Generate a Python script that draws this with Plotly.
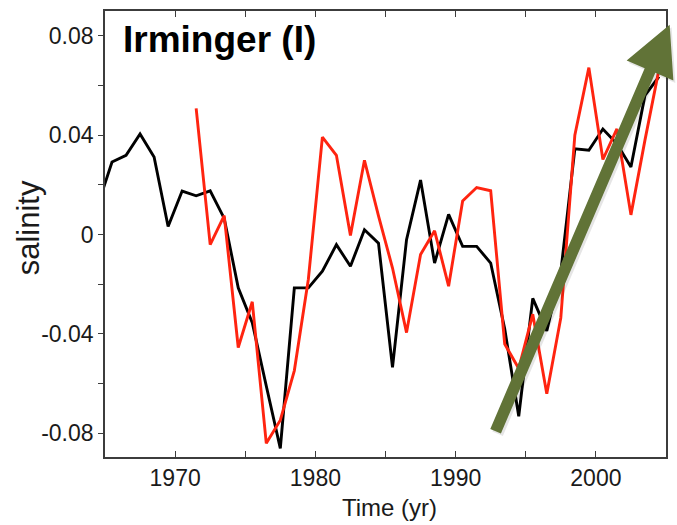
import plotly.graph_objects as go

# Annual salinity anomalies, Irminger Sea (values at mid-year)
years_black = [1964.5 + i for i in range(41)]
salinity_black = [
    0.012, 0.0292, 0.0319, 0.0405, 0.0312, 0.0032, 0.0175, 0.0156, 0.0176, 0.0065,
    -0.0215, -0.0355, -0.061, -0.0861, -0.0215, -0.0215, -0.0148, -0.0041, -0.0128, 0.0019,
    -0.0035, -0.0535, -0.0021, 0.0219, -0.0115, 0.0081, -0.0048, -0.0048, -0.0115, -0.038,
    -0.0732, -0.0257, -0.0388, -0.015, 0.0345, 0.0339, 0.0425, 0.0365, 0.0272, 0.056,
    0.0636,
]

years_red = [1971.5 + i for i in range(34)]
salinity_red = [
    0.0508, -0.0041, 0.0076, -0.0455, -0.0271, -0.0841, -0.0748, -0.0548, -0.018, 0.0392,
    0.0319, -0.0004, 0.0299, 0.0075, -0.0135, -0.0395, -0.0081, 0.0015, -0.0208, 0.0135,
    0.0189, 0.0176, -0.0441, -0.054, -0.0321, -0.0641, -0.0335, 0.040, 0.0672, 0.0302,
    0.0425, 0.0079, 0.038, 0.0665,
]

# Trend arrow (start and end, in data units)
trend_start = (1992.85, -0.0792)
trend_end = (2005.26, 0.0845)

x_ticks = [1970, 1975, 1980, 1985, 1990, 1995, 2000]
x_ticktext = ["1970", "", "1980", "", "1990", "", "2000"]
y_ticks = [-0.08, -0.06, -0.04, -0.02, 0, 0.02, 0.04, 0.06, 0.08]
y_ticktext = ["-0.08", "", "-0.04", "", "0", "", "0.04", "", "0.08"]

X_RANGE = [1965, 2005]
Y_RANGE = [-0.0896, 0.090]

W, H = 677, 525
ML, MR, MT, MB = 105, 9, 10, 68
FONT = "Liberation Sans, Arial, Helvetica, sans-serif"
AXIS_COLOR = "#3c3c3c"
GREEN = "#617337"

fig = go.Figure()
fig.add_trace(go.Scatter(x=years_black, y=salinity_black, mode="lines",
                         line=dict(color="black", width=2.9), showlegend=False))
fig.add_trace(go.Scatter(x=years_red, y=salinity_red, mode="lines",
                         line=dict(color="#ff2410", width=2.9), showlegend=False))

# --- trend arrow drawn as a polygon in paper coordinates ---
pw, ph = W - ML - MR, H - MT - MB


def to_px(x, y):
    px = ML + (x - X_RANGE[0]) / (X_RANGE[1] - X_RANGE[0]) * pw
    py = MT + (Y_RANGE[1] - y) / (Y_RANGE[1] - Y_RANGE[0]) * ph
    return px, py


def to_paper(px, py):
    return (px - ML) / pw, (MT + ph - py) / ph


tx, ty = to_px(*trend_start)
hx, hy = to_px(*trend_end)
L = ((hx - tx) ** 2 + (hy - ty) ** 2) ** 0.5
ux, uy = (hx - tx) / L, (hy - ty) / L
nx, ny = -uy, ux
head_len, head_half, shaft_half = 50, 25.5, 5.8
bx, by = hx - head_len * ux, hy - head_len * uy
poly = [
    (tx + shaft_half * nx, ty + shaft_half * ny),
    (bx + shaft_half * nx, by + shaft_half * ny),
    (bx + head_half * nx, by + head_half * ny),
    (hx, hy),
    (bx - head_half * nx, by - head_half * ny),
    (bx - shaft_half * nx, by - shaft_half * ny),
    (tx - shaft_half * nx, ty - shaft_half * ny),
]


def path_of(points, dx=0.0, dy=0.0):
    pts = [to_paper(px + dx, py + dy) for px, py in points]
    return "M " + " L ".join(f"{a:.5f},{b:.5f}" for a, b in pts) + " Z"


# faint drop shadow, then the arrow itself
fig.add_shape(type="path", xref="paper", yref="paper", path=path_of(poly, 2, 2.5),
              fillcolor="rgba(0,0,0,0.10)", line=dict(width=0), layer="above")
fig.add_shape(type="path", xref="paper", yref="paper", path=path_of(poly),
              fillcolor=GREEN, line=dict(width=0), layer="above")

# panel label and axis titles
fig.add_annotation(text="<b>Irminger (I)</b>", xref="paper", yref="paper",
                   x=(121 - ML) / pw, y=(MT + ph - 39) / ph,
                   xanchor="left", yanchor="middle", showarrow=False,
                   font=dict(family=FONT, size=37, color="black"))
fig.add_annotation(text="salinity", xref="paper", yref="paper",
                   x=(28 - ML) / pw, y=(MT + ph - 227.5) / ph, textangle=-90,
                   xanchor="center", yanchor="middle", showarrow=False,
                   font=dict(family=FONT, size=31, color="#1a1a1a"))
fig.add_annotation(text="Time (yr)", xref="paper", yref="paper",
                   x=(391 - ML) / pw, y=(MT + ph - 508) / ph,
                   xanchor="center", yanchor="middle", showarrow=False,
                   font=dict(family=FONT, size=24, color="#1a1a1a"))

tick_font = dict(family=FONT, size=23, color="#1a1a1a")

fig.update_layout(
    width=W, height=H,
    margin=dict(l=ML, r=MR, t=MT, b=MB),
    paper_bgcolor="white", plot_bgcolor="white",
    xaxis=dict(range=X_RANGE, tickvals=x_ticks, ticktext=x_ticktext,
               ticks="inside", ticklen=6, tickwidth=1.3, tickcolor=AXIS_COLOR,
               showline=True, linecolor=AXIS_COLOR, linewidth=1.6, mirror="ticks",
               showgrid=False, zeroline=False, tickfont=tick_font),
    yaxis=dict(range=Y_RANGE, tickvals=y_ticks, ticktext=y_ticktext,
               ticks="outside", ticklen=5, tickwidth=1.3, tickcolor=AXIS_COLOR,
               showline=True, linecolor=AXIS_COLOR, linewidth=1.6, mirror=True,
               showgrid=False, zeroline=False, tickfont=tick_font),
    yaxis2=dict(range=Y_RANGE, overlaying="y", side="left", anchor="x",
                tickvals=y_ticks, ticks="inside", ticklen=5, tickwidth=1.3,
                tickcolor=AXIS_COLOR, showticklabels=False, showline=False,
                showgrid=False, zeroline=False),
    yaxis3=dict(range=Y_RANGE, overlaying="y", side="right", anchor="x",
                tickvals=y_ticks, ticks="inside", ticklen=6, tickwidth=1.3,
                tickcolor=AXIS_COLOR, showticklabels=False, showline=False,
                showgrid=False, zeroline=False),
)

fig.write_html("out.html")
